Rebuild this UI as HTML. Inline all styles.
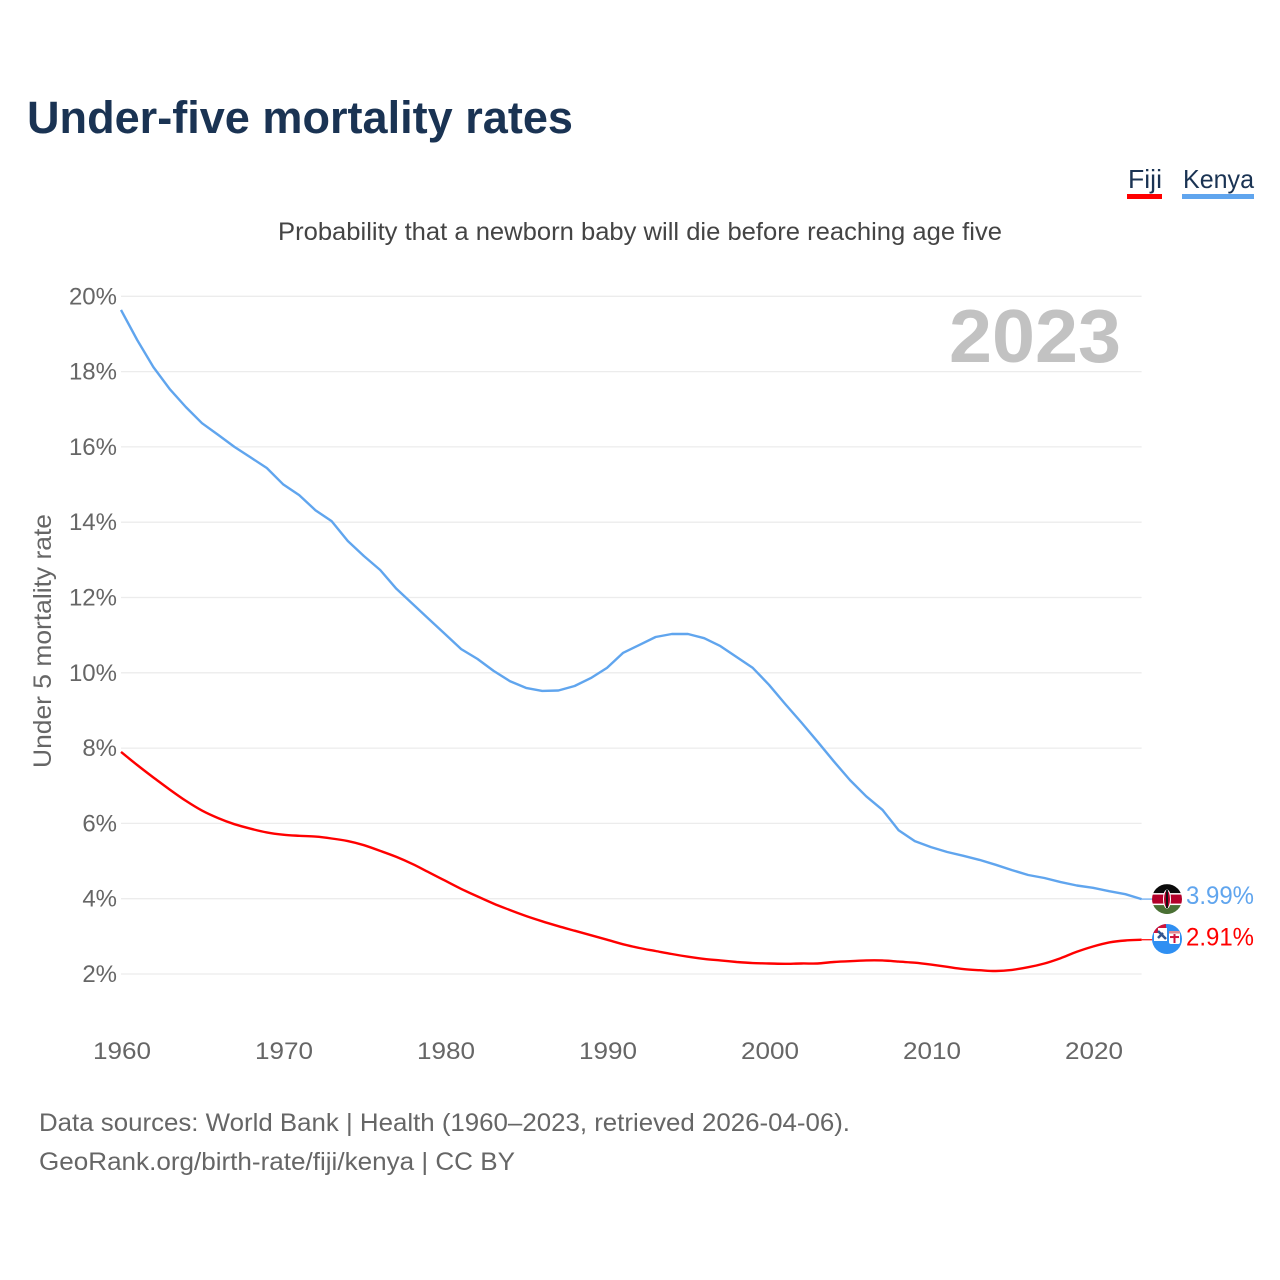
<!DOCTYPE html>
<html lang="en">
<head>
<meta charset="utf-8">
<title>Under-five mortality rates</title>
<style>
html,body{margin:0;padding:0;background:#fff;width:1280px;height:1280px;overflow:hidden}
svg{display:block;font-family:"Liberation Sans",sans-serif}
</style>
</head>
<body>
<svg id="chart" xmlns="http://www.w3.org/2000/svg" width="1280" height="1280" viewBox="0 0 1280 1280">
  <defs>
    <clipPath id="flag-clip-kenya"><circle cx="0" cy="0" r="15"></circle></clipPath>
    <clipPath id="flag-clip-fiji"><circle cx="0" cy="0" r="15"></circle></clipPath>
  </defs>
  <rect width="1280" height="1280" fill="#fff"></rect>
  <text x="27" y="133" font-size="45" font-weight="700" fill="#1a3353" textLength="546" lengthAdjust="spacingAndGlyphs">Under-five mortality rates</text>
  <g>
    <g>
      <text x="1128" y="188" font-size="26" fill="#1a3353" textLength="34" lengthAdjust="spacingAndGlyphs">Fiji</text>
      <rect x="1127" y="194" width="35" height="5" fill="#ff0000"></rect>
    </g>
    <g>
      <text x="1183" y="188" font-size="26" fill="#1a3353" textLength="71" lengthAdjust="spacingAndGlyphs">Kenya</text>
      <rect x="1182" y="194" width="72" height="5" fill="#60a5ee"></rect>
    </g>
  </g>
  <text x="278" y="240" font-size="25" fill="#444" textLength="724" lengthAdjust="spacingAndGlyphs">Probability that a newborn baby will die before reaching age five</text>
  <g id="grid"></g>
  <g id="y-ticks"></g>
  <g id="x-ticks"></g>
  <text x="949" y="362" font-size="75" font-weight="700" fill="#c2c2c2" textLength="172" lengthAdjust="spacingAndGlyphs">2023</text>
  <text transform="translate(51,768) rotate(-90)" x="0" y="0" font-size="25" fill="#666" textLength="254" lengthAdjust="spacingAndGlyphs">Under 5 mortality rate</text>
  <g id="series"></g>
  <g id="flag-kenya" clip-path="url(#flag-clip-kenya)">
    <rect x="-15" y="-15" width="30" height="30" fill="#fff"></rect>
    <rect x="-15" y="-15" width="30" height="9" fill="#0b0b0b"></rect>
    <rect x="-15" y="-4.5" width="30" height="9" fill="#b4002a"></rect>
    <rect x="-15" y="6" width="30" height="9" fill="#4a7034"></rect>
    <ellipse cx="0" cy="0" rx="3.5" ry="9" fill="#b4002a" stroke="#fff" stroke-width="1"></ellipse>
    <rect x="-1" y="-9" width="2" height="18" fill="#111"></rect>
  </g>
  <g id="flag-fiji" clip-path="url(#flag-clip-fiji)">
    <rect x="-15" y="-15" width="30" height="30" fill="#2f8ff2"></rect>
    <path d="M-15 -15 H-1 V-11 H-9 V-6 H-15 Z" fill="#cf1339"></path>
    <path d="M-9 -11 H0 V2 H-13 V-6 H-9 Z" fill="#fff"></path>
    <path d="M-9 -8 L-1 0 M-9 -1 L-4 -6" stroke="#33558f" stroke-width="2.5" fill="none"></path>
    <rect x="2" y="-8" width="11" height="13" rx="2" fill="#fff"></rect>
    <rect x="2" y="-8" width="11" height="2.5" fill="#e08a90"></rect>
    <rect x="3" y="-3" width="9" height="2" fill="#cf1339"></rect>
    <rect x="6.5" y="-5" width="2" height="9" fill="#cf1339"></rect>
  </g>
  <text id="label-kenya" x="1186" y="904" font-size="25" fill="#60a5ee" textLength="68" lengthAdjust="spacingAndGlyphs"></text>
  <text id="label-fiji" x="1186" y="946" font-size="25" fill="#ff0000" textLength="68" lengthAdjust="spacingAndGlyphs"></text>
  <g>
    <text x="39" y="1131" font-size="25" fill="#666" textLength="811" lengthAdjust="spacingAndGlyphs">Data sources: World Bank | Health (1960–2023, retrieved 2026-04-06).</text>
    <text x="39" y="1170" font-size="25" fill="#666" textLength="476" lengthAdjust="spacingAndGlyphs">GeoRank.org/birth-rate/fiji/kenya | CC BY</text>
  </g>
</svg>
<script>
const firstYear = 1960;
const xTickYears = [1960, 1970, 1980, 1990, 2000, 2010, 2020];
const yTickValues = [2, 4, 6, 8, 10, 12, 14, 16, 18, 20];
const kenyaValues = [19.64,18.84,18.12,17.54,17.06,16.63,16.32,16.0,15.72,15.44,15.01,14.72,14.32,14.03,13.5,13.1,12.73,12.23,11.83,11.43,11.03,10.63,10.37,10.05,9.78,9.6,9.52,9.53,9.65,9.86,10.13,10.53,10.74,10.95,11.03,11.03,10.92,10.71,10.42,10.13,9.68,9.17,8.68,8.17,7.65,7.15,6.72,6.36,5.82,5.53,5.37,5.24,5.14,5.03,4.9,4.76,4.63,4.55,4.44,4.35,4.29,4.2,4.12,3.99];
const fijiValues = [7.9,7.55,7.22,6.9,6.6,6.34,6.14,5.98,5.86,5.76,5.7,5.67,5.65,5.6,5.53,5.42,5.27,5.11,4.92,4.7,4.48,4.26,4.06,3.87,3.7,3.54,3.4,3.27,3.15,3.03,2.91,2.79,2.69,2.61,2.53,2.46,2.4,2.36,2.32,2.29,2.28,2.27,2.28,2.28,2.32,2.34,2.36,2.36,2.33,2.3,2.25,2.19,2.13,2.1,2.08,2.11,2.18,2.28,2.42,2.59,2.73,2.84,2.89,2.91];

const NS = 'http://www.w3.org/2000/svg';
function xScale(year) { return 121 + (year - 1960) * 16.2; }
function yScale(value) { return 974 - (value - 2) * 37.65; }
const xEnd = xScale(2023);

const grid = document.getElementById('grid');
const yTicks = document.getElementById('y-ticks');
yTickValues.forEach(function (v) {
  const line = document.createElementNS(NS, 'line');
  
  
  line.setAttribute('x1', 121);
  line.setAttribute('x2', xEnd);
  line.setAttribute('y1', yScale(v));
  line.setAttribute('y2', yScale(v));
  line.setAttribute('stroke', '#ececec');
  line.setAttribute('stroke-width', '1.3');
  grid.appendChild(line);
  const t = document.createElementNS(NS, 'text');
  
  
  t.setAttribute('x', 117);
  t.setAttribute('y', yScale(v) + 8);
  t.setAttribute('text-anchor', 'end');
  t.setAttribute('font-size', '24');
  t.setAttribute('fill', '#666');
  t.textContent = v + '%';
  yTicks.appendChild(t);
});

const xTicks = document.getElementById('x-ticks');
xTickYears.forEach(function (y) {
  const t = document.createElementNS(NS, 'text');
  
  
  t.setAttribute('x', xScale(y) - 28);
  t.setAttribute('y', 1059);
  t.setAttribute('font-size', '24');
  t.setAttribute('fill', '#666');
  t.setAttribute('textLength', '58');
  t.setAttribute('lengthAdjust', 'spacingAndGlyphs');
  t.textContent = y;
  xTicks.appendChild(t);
});

const seriesGroup = document.getElementById('series');
function linearPath(pts) {
  return pts.map(function (p, i) {
    return (i ? 'L' : 'M') + p[0].toFixed(1) + ' ' + p[1].toFixed(1);
  }).join(' ');
}
function smoothPath(pts) {
  let d = 'M' + pts[0][0].toFixed(1) + ' ' + pts[0][1].toFixed(1);
  for (let i = 0; i < pts.length - 1; i++) {
    const p0 = pts[Math.max(i - 1, 0)];
    const p1 = pts[i];
    const p2 = pts[i + 1];
    const p3 = pts[Math.min(i + 2, pts.length - 1)];
    const c1x = p1[0] + (p2[0] - p0[0]) / 6;
    const c1y = p1[1] + (p2[1] - p0[1]) / 6;
    const c2x = p2[0] - (p3[0] - p1[0]) / 6;
    const c2y = p2[1] - (p3[1] - p1[1]) / 6;
    d += ' C' + c1x.toFixed(1) + ' ' + c1y.toFixed(1) + ' ' + c2x.toFixed(1) + ' ' + c2y.toFixed(1) + ' ' + p2[0].toFixed(1) + ' ' + p2[1].toFixed(1);
  }
  return d;
}
function drawSeries(values, color, name, smooth) {
  const pts = values.map(function (v, i) {
    return [xScale(firstYear + i), yScale(v)];
  });
  const line = document.createElementNS(NS, 'path');
  
  
  line.setAttribute('d', smooth ? smoothPath(pts) : linearPath(pts));
  line.setAttribute('fill', 'none');
  line.setAttribute('stroke', color);
  line.setAttribute('stroke-width', '2.4');
  line.setAttribute('stroke-linejoin', 'round');
  seriesGroup.appendChild(line);
  const last = values[values.length - 1];
  const conn = document.createElementNS(NS, 'line');
  
  
  conn.setAttribute('x1', xEnd);
  conn.setAttribute('x2', 1154);
  conn.setAttribute('y1', yScale(last));
  conn.setAttribute('y2', yScale(last));
  conn.setAttribute('stroke', color);
  conn.setAttribute('stroke-width', '1.2');
  seriesGroup.appendChild(conn);
}
drawSeries(kenyaValues, '#60a5ee', 'kenya-line', false);
drawSeries(fijiValues, '#ff0000', 'fiji-line', true);

const kenyaLast = kenyaValues[kenyaValues.length - 1];
const fijiLast = fijiValues[fijiValues.length - 1];
document.getElementById('flag-kenya').setAttribute('transform', 'translate(1167,' + yScale(kenyaLast) + ')');
document.getElementById('flag-fiji').setAttribute('transform', 'translate(1167,' + (yScale(fijiLast) - 0.7) + ')');
const labelKenya = document.getElementById('label-kenya');
labelKenya.setAttribute('y', yScale(kenyaLast) + 5);
labelKenya.textContent = kenyaLast.toFixed(2) + '%';
const labelFiji = document.getElementById('label-fiji');
labelFiji.setAttribute('y', yScale(fijiLast) + 6);
labelFiji.textContent = fijiLast.toFixed(2) + '%';
</script>
</body>
</html>
